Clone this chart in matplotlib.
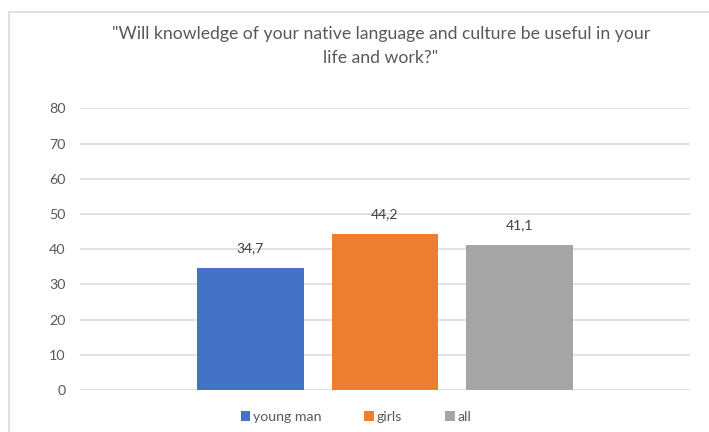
import matplotlib
matplotlib.use("Agg")
import matplotlib.pyplot as plt
from matplotlib.patches import Rectangle

# Survey answers (% of respondents)
title = '"Will knowledge of your native language and culture be useful in your\nlife and work?"'
groups = ["young man", "girls", "all"]
values = [34.7, 44.2, 41.1]
colors = ["#4472C4", "#ED7D31", "#A5A5A5"]
yticks = [0, 10, 20, 30, 40, 50, 60, 70, 80]

plt.rcParams["font.family"] = ["Lato", "DejaVu Sans"]
TEXT = "#595959"
GRID = "#D9D9D9"

fig = plt.figure(figsize=(7.09, 4.32), dpi=100)
ax = fig.add_axes([80 / 709, 42 / 432, 610 / 709, (390 - 108.3) / 432])

# clustered bars around a single category at x = 0
offsets = [-0.2213, 0.0, 0.2213]
width = 0.1754
bars = []
for g, v, c, off in zip(groups, values, colors, offsets):
    b = ax.bar(off, v, width=width, color=c, label=g, zorder=3)
    bars.append(b)
    ax.annotate(f"{v:.1f}".replace(".", ","), xy=(off, v), xytext=(0, 14.5),
                textcoords="offset points", ha="center", va="center",
                fontsize=10, color="#404040")

ax.set_xlim(-0.5, 0.5)
ax.set_ylim(0, 80)
ax.set_yticks(yticks)
ax.set_xticks([])
ax.tick_params(axis="y", length=0, pad=10.5, labelsize=10.3, labelcolor=TEXT)
for s in ax.spines.values():
    s.set_visible(False)
ax.grid(axis="y", color=GRID, linewidth=1.1, zorder=0)
ax.set_axisbelow(True)

fig.text(381 / 709, 1 - 46 / 432, title, ha="center", va="center",
         fontsize=12.7, color=TEXT, linespacing=1.6)

ax.legend(handles=[b[0] for b in bars], labels=groups, loc="center",
          bbox_to_anchor=(356 / 709, 1 - 417 / 432), bbox_transform=fig.transFigure,
          ncol=3, frameon=False, fontsize=10.2, labelcolor=TEXT,
          handlelength=0.7, handleheight=0.7, handletextpad=0.2,
          columnspacing=3.0)

# chart frame (left and top edges fall inside the image)
fig.add_artist(Rectangle((9 / 709, -0.2), 2.0, 1.2 - 12 / 432,
                         transform=fig.transFigure, fill=False,
                         edgecolor=GRID, linewidth=1.2))

fig.savefig("out.png", dpi=100)
